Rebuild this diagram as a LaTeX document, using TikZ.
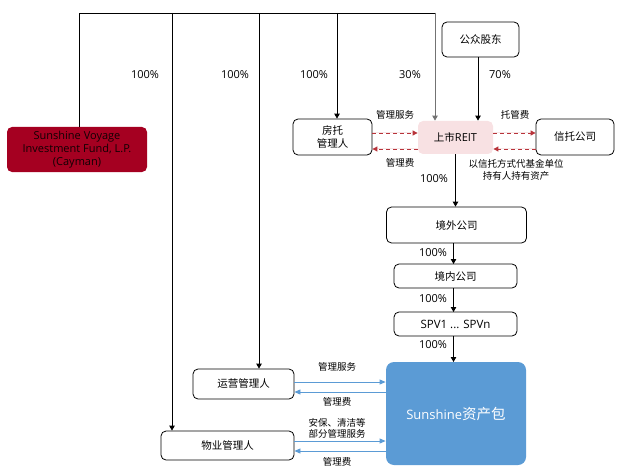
\documentclass[tikz,border=0pt]{standalone}
\usepackage{fontspec}
\setmainfont{Open Sans}
\newfontfamily\cjk{Noto Sans CJK SC}
\usetikzlibrary{arrows.meta}
\definecolor{svred}{HTML}{A50021}
\definecolor{reitpink}{HTML}{F8E1E3}
\definecolor{assetblue}{HTML}{5B9BD5}
\definecolor{dashred}{HTML}{B8333A}
\definecolor{lineblue}{HTML}{5B9BD5}
\begin{document}
\begin{tikzpicture}[x=1pt,y=-1pt,
  box/.style={draw, rounded corners=5pt, line width=0.8pt, inner sep=0pt, align=center,
    font=\fontsize{10.5}{13}\selectfont\cjk},
  lbl/.style={inner sep=0pt, align=center, font=\fontsize{9.5}{11.5}\selectfont\cjk},
  pct/.style={inner sep=0pt, font=\fontsize{11}{12}\selectfont},
  arr/.style={line width=0.9pt, -{Triangle[width=5.5pt,length=5pt]}},
  rdash/.style={draw=dashred, line width=0.9pt, dash pattern=on 4pt off 3pt,
    -{Triangle[width=5pt,length=5pt]}, fill=dashred},
  barr/.style={draw=lineblue, line width=0.8pt, -{Triangle[width=5pt,length=6pt]}, fill=lineblue}
]
\useasboundingbox (0,0) rectangle (620,473);

% boxes
\node[box, draw=none, fill=svred, text=black!90!svred, minimum width=140pt, minimum height=45pt,
  font=\fontsize{11}{13}\selectfont] (sv) at (77,149.5)
  {Sunshine Voyage\\Investment Fund, L.P.\\(Cayman)};
\node[box, minimum width=77pt, minimum height=35pt] (gz) at (480.5,39.5) {公众股东};
\node[box, minimum width=79pt, minimum height=36pt] (ft) at (332.5,137) {房托\\管理人};
\node[box, draw=none, fill=reitpink, minimum width=75pt, minimum height=33pt] (reit) at (455.5,137.5) {上市{\rmfamily\fontsize{11}{13}\selectfont REIT}};
\node[box, minimum width=78pt, minimum height=36pt] (xt) at (575,137) {信托公司};
\node[box, minimum width=140pt, minimum height=36pt] (jw) at (456.5,225) {境外公司};
\node[box, minimum width=123pt, minimum height=24pt] (jn) at (455.5,276) {境内公司};
\node[box, minimum width=123pt, minimum height=24pt, font=\fontsize{11.5}{12}\selectfont] (spv) at (455.5,324) {SPV1 ... SPVn};
\node[box, draw=none, fill=assetblue, text=white, rounded corners=8pt, minimum width=140pt, minimum height=103pt,
  font=\fontsize{13}{16}\selectfont] (zc) at (456,413.5) {Sunshine{\cjk\fontsize{14.5}{16}\selectfont 资产包}};
\node[box, minimum width=101pt, minimum height=30pt] (yy) at (243.5,384) {运营管理人};
\node[box, minimum width=133pt, minimum height=29pt] (wy) at (227.5,445.5) {物业管理人};

% ownership tree
\coordinate (tl) at (79,13);
\coordinate (tr) at (435,13);
\coordinate (b1) at (172,13);
\coordinate (b2) at (259,13);
\coordinate (b3) at (337,13);
\draw[line width=0.9pt] (sv.north -| tl) -- (tl) -- (tr);
\draw[arr] (b1) -- (b1 |- wy.north);
\draw[arr] (b2) -- (b2 |- yy.north);
\draw[arr] (b3) -- (b3 |- ft.north);
\draw[arr, draw=black!55, fill=black] (tr) -- (tr |- reit.north);
\draw[arr] ([xshift=-2.5pt]gz.south) -- ([xshift=-2.5pt]gz.south |- reit.north);

\node[pct] (p1) at (145,75) {100\%};
\node[pct] (p2) at (235,75) {100\%};
\node[pct] (p3) at (314,75) {100\%};
\node[pct] (p4) at (410,75) {30\%};
\node[pct] (p5) at (500,75) {70\%};

% REIT relations
\draw[rdash] ([yshift=4pt]ft.east) -- ([yshift=4pt]ft.east -| reit.west);
\draw[rdash] ([yshift=-12pt]reit.west |- ft.east) -- ([yshift=-12pt]ft.east);
\draw[rdash] ([yshift=4pt]reit.east |- xt.west) -- ([yshift=4pt]xt.west);
\draw[rdash] ([yshift=-12pt]xt.west) -- ([yshift=-12pt]xt.west -| reit.east);
\node[lbl] (l1) at (395,115) {管理服务};
\node[lbl] (l2) at (400,163) {管理费};
\node[lbl] (l3) at (515,115) {托管费};
\node[lbl] (l4) at (516,170) {以信托方式代基金单位\\持有人持有资产};

% chain
\draw[arr] (reit.south) -- (reit.south |- jw.north);
\draw[arr] (453.5,243) -- (453.5,264);
\draw[arr] (453.5,288) -- (453.5,312);
\draw[arr] (453.5,336) -- (453.5,362);
\node[pct] (p6) at (434,179) {100\%};
\node[pct] (p7) at (433,253) {100\%};
\node[pct] (p8) at (433,299) {100\%};
\node[pct] (p9) at (433,345) {100\%};

% managers
\draw[barr] ([yshift=2pt]yy.east) -- ([yshift=2pt]yy.east -| zc.west);
\draw[barr] ([yshift=-8pt]yy.east -| zc.west) -- ([yshift=-8pt]yy.east);
\draw[barr] ([yshift=4.5pt]wy.east) -- ([yshift=4.5pt]wy.east -| zc.west);
\draw[barr] ([yshift=-5.5pt]wy.east -| zc.west) -- ([yshift=-5.5pt]wy.east);
\node[lbl] (l5) at (337,367) {管理服务};
\node[lbl] (l6) at (337,402) {管理费};
\node[lbl, font=\fontsize{9.5}{11}\selectfont\cjk] (l7) at (337,428) {安保、清洁等\\部分管理服务};
\node[lbl] (l8) at (337,462) {管理费};
\end{tikzpicture}
\end{document}
